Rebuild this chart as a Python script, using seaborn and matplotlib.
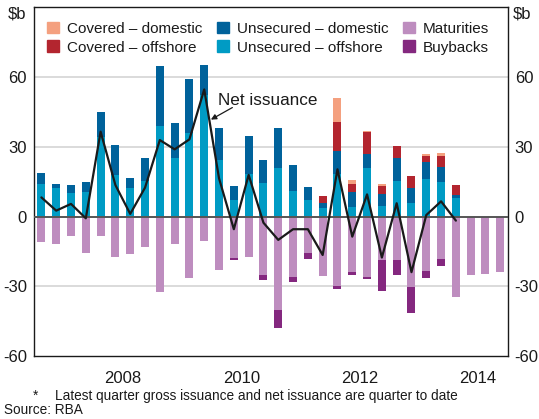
import numpy as np
import pandas as pd
import matplotlib
matplotlib.use('Agg')
import matplotlib.pyplot as plt
import seaborn as sns
from matplotlib.patches import Patch

sns.set_theme(style='white')
plt.rcParams['font.family'] = ['Liberation Sans', 'DejaVu Sans']

# --- DATA ($b, quarterly 2007 Q1 - 2014 Q4) ---
quarters = [f'{y}Q{q}' for y in range(2007, 2015) for q in range(1, 5)]

unsec_off = [14.1, 12.5, 10.2, 10.6, 34.4, 17.9, 12.5, 15.5, 39.0, 25.3, 36.2, 52.3,
             24.5, 7.2, 18.4, 14.5, 21.1, 11.1, 7.2, 3.9, 18.4, 4.2, 21.1, 4.6,
             15.4, 5.9, 16.2, 14.9, 8.2, 0, 0, 0]
unsec_dom = [4.8, 1.6, 3.4, 4.2, 10.5, 13.0, 4.2, 9.6, 26.0, 15.2, 23.1, 13.0,
             13.5, 5.9, 16.2, 9.9, 16.9, 11.2, 5.6, 1.8, 9.9, 6.6, 6.0, 5.3,
             10.0, 6.6, 7.5, 6.5, 1.3, 0, 0, 0]
cov_off = [0] * 19 + [3.2, 12.5, 3.3, 9.2, 3.3, 5.0, 5.0, 2.4, 4.9, 4.1, 0, 0, 0]
cov_dom = [0] * 20 + [10.3, 1.7, 0.5, 0.9, 0, 0, 0.9, 1.1, 0, 0, 0, 0]
maturities = [-10.8, -11.6, -8.2, -15.5, -8.2, -17.2, -15.9, -12.9, -32.3, -11.6, -26.3, -10.5,
              -22.9, -17.9, -17.2, -25.1, -40.2, -26.1, -15.8, -25.4, -29.8, -23.8, -25.8, -18.6,
              -18.6, -30.1, -23.4, -18.2, -34.4, -25.1, -24.5, -23.7]
buybacks = [0] * 13 + [-0.7, 0, -2.1, -7.6, -1.9, -2.4, 0, -1.2, -1.3, -1.0, -13.2,
                       -6.5, -11.2, -2.9, -2.9, 0, 0, 0, 0]
net_issuance = [8.3, 2.6, 5.5, -0.7, 36.6, 13.6, 1.2, 12.5, 33.0, 29.0, 33.3, 54.8,
                16.5, -5.4, 18.0, -2.6, -10.0, -5.4, -5.4, -16.5, 20.4, -8.6, 9.6, -17.6,
                5.8, -23.9, 0.7, 6.6, -1.7]

year_labels = ['2008', '2010', '2012', '2014']

# colours
c_covdom = '#F4A07F'
c_covoff = '#B3252F'
c_unsdom = '#00629B'
c_unsoff = '#009BC4'
c_mat = '#BE8DBF'
c_buy = '#84287F'

df = pd.DataFrame({'q': quarters, 'unsec_off': unsec_off, 'unsec_dom': unsec_dom,
                   'cov_off': cov_off, 'cov_dom': cov_dom,
                   'mat': maturities, 'buy': buybacks})
# cumulative stacks, drawn from the tallest layer down
df['s4'] = df.unsec_off + df.unsec_dom + df.cov_off + df.cov_dom
df['s3'] = df.unsec_off + df.unsec_dom + df.cov_off
df['s2'] = df.unsec_off + df.unsec_dom
df['s1'] = df.unsec_off
df['n2'] = df.mat + df.buy
df['n1'] = df.mat

fig = plt.figure(figsize=(5.39, 4.19), dpi=100)
ax = fig.add_axes([34 / 539, 1 - 356 / 419, (507.7 - 34) / 539, (356 - 7) / 419])

w = 0.54
for col, color in [('s4', c_covdom), ('s3', c_covoff), ('s2', c_unsdom), ('s1', c_unsoff),
                   ('n2', c_buy), ('n1', c_mat)]:
    sns.barplot(data=df, x='q', y=col, order=quarters, color=color, width=w,
                saturation=1, linewidth=0, ax=ax, zorder=2)

net_df = pd.DataFrame({'x': np.arange(len(net_issuance)), 'net': net_issuance})
sns.lineplot(data=net_df, x='x', y='net', color='#1a1a1a', linewidth=1.6, ax=ax, zorder=4)

# label + arrow pointing at the 2009 Q4 peak
ax.text(11.95, 50.0, 'Net issuance', fontsize=12.3, ha='left', va='center', color='#1a1a1a')
ax.annotate('', xy=(11.45, 41.8), xytext=(12.9, 47.0),
            arrowprops=dict(arrowstyle='-|>', color='#1a1a1a', lw=0.9,
                            mutation_scale=8, shrinkA=0, shrinkB=0))

# axes, grid
ax.set_xlim(-0.5, 31.5)
ax.set_ylim(-60, 90.3)
ax.set_yticks([-60, -30, 0, 30, 60])
ax.set_yticklabels(['-60', '-30', '0', '30', '60'])
for v in [-30, 30, 60]:
    ax.axhline(v, color='#d4d4d4', lw=1.2, zorder=1)
ax.axhline(0, color='#555555', lw=1.4, zorder=3)

ax.set_xticks(np.arange(-0.5, 32, 4))
ax.set_xticklabels([])
ax.set_xticks([5.5, 13.5, 21.5, 29.5], minor=True)
ax.set_xticklabels(year_labels, minor=True)
ax.tick_params(axis='x', which='major', direction='in', length=4.5, width=1, color='#444444')
ax.tick_params(axis='x', which='minor', length=0, labelsize=12, pad=11, colors='#1a1a1a')
ax.tick_params(axis='y', length=0, labelsize=12, pad=5, labelright=True, labelleft=True,
               colors='#1a1a1a')
ax.set_xlabel('')
ax.set_ylabel('')
for s in ax.spines.values():
    s.set_color('#1a1a1a')
    s.set_linewidth(1.0)
ax.grid(False)

# legend
handles = [Patch(color=c_covdom, label='Covered – domestic'),
           Patch(color=c_covoff, label='Covered – offshore'),
           Patch(color=c_unsdom, label='Unsecured – domestic'),
           Patch(color=c_unsoff, label='Unsecured – offshore'),
           Patch(color=c_mat, label='Maturities'),
           Patch(color=c_buy, label='Buybacks')]
leg = ax.legend(handles=handles, ncol=3, loc='upper left', bbox_to_anchor=(0.0, 0.995),
                frameon=False, fontsize=11, handlelength=0.8, handleheight=0.8,
                handletextpad=0.5, columnspacing=0.95, labelspacing=0.3,
                borderaxespad=0.45)
for t in leg.get_texts():
    t.set_color('#1a1a1a')

# units and notes
fig.text(8 / 539, 1 - 14 / 419, '$b', fontsize=12, va='center', ha='left', color='#1a1a1a')
fig.text(513 / 539, 1 - 14 / 419, '$b', fontsize=12, va='center', ha='left', color='#1a1a1a')
fig.text(33 / 539, 1 - 396 / 419, '*', fontsize=9.8, va='center', ha='left', color='#1a1a1a')
fig.text(55 / 539, 1 - 396 / 419,
         'Latest quarter gross issuance and net issuance are quarter to date',
         fontsize=9.8, va='center', ha='left', color='#1a1a1a')
fig.text(4 / 539, 1 - 410 / 419, 'Source: RBA', fontsize=9.8, va='center', ha='left',
         color='#1a1a1a')

fig.savefig('out.png', dpi=100)
